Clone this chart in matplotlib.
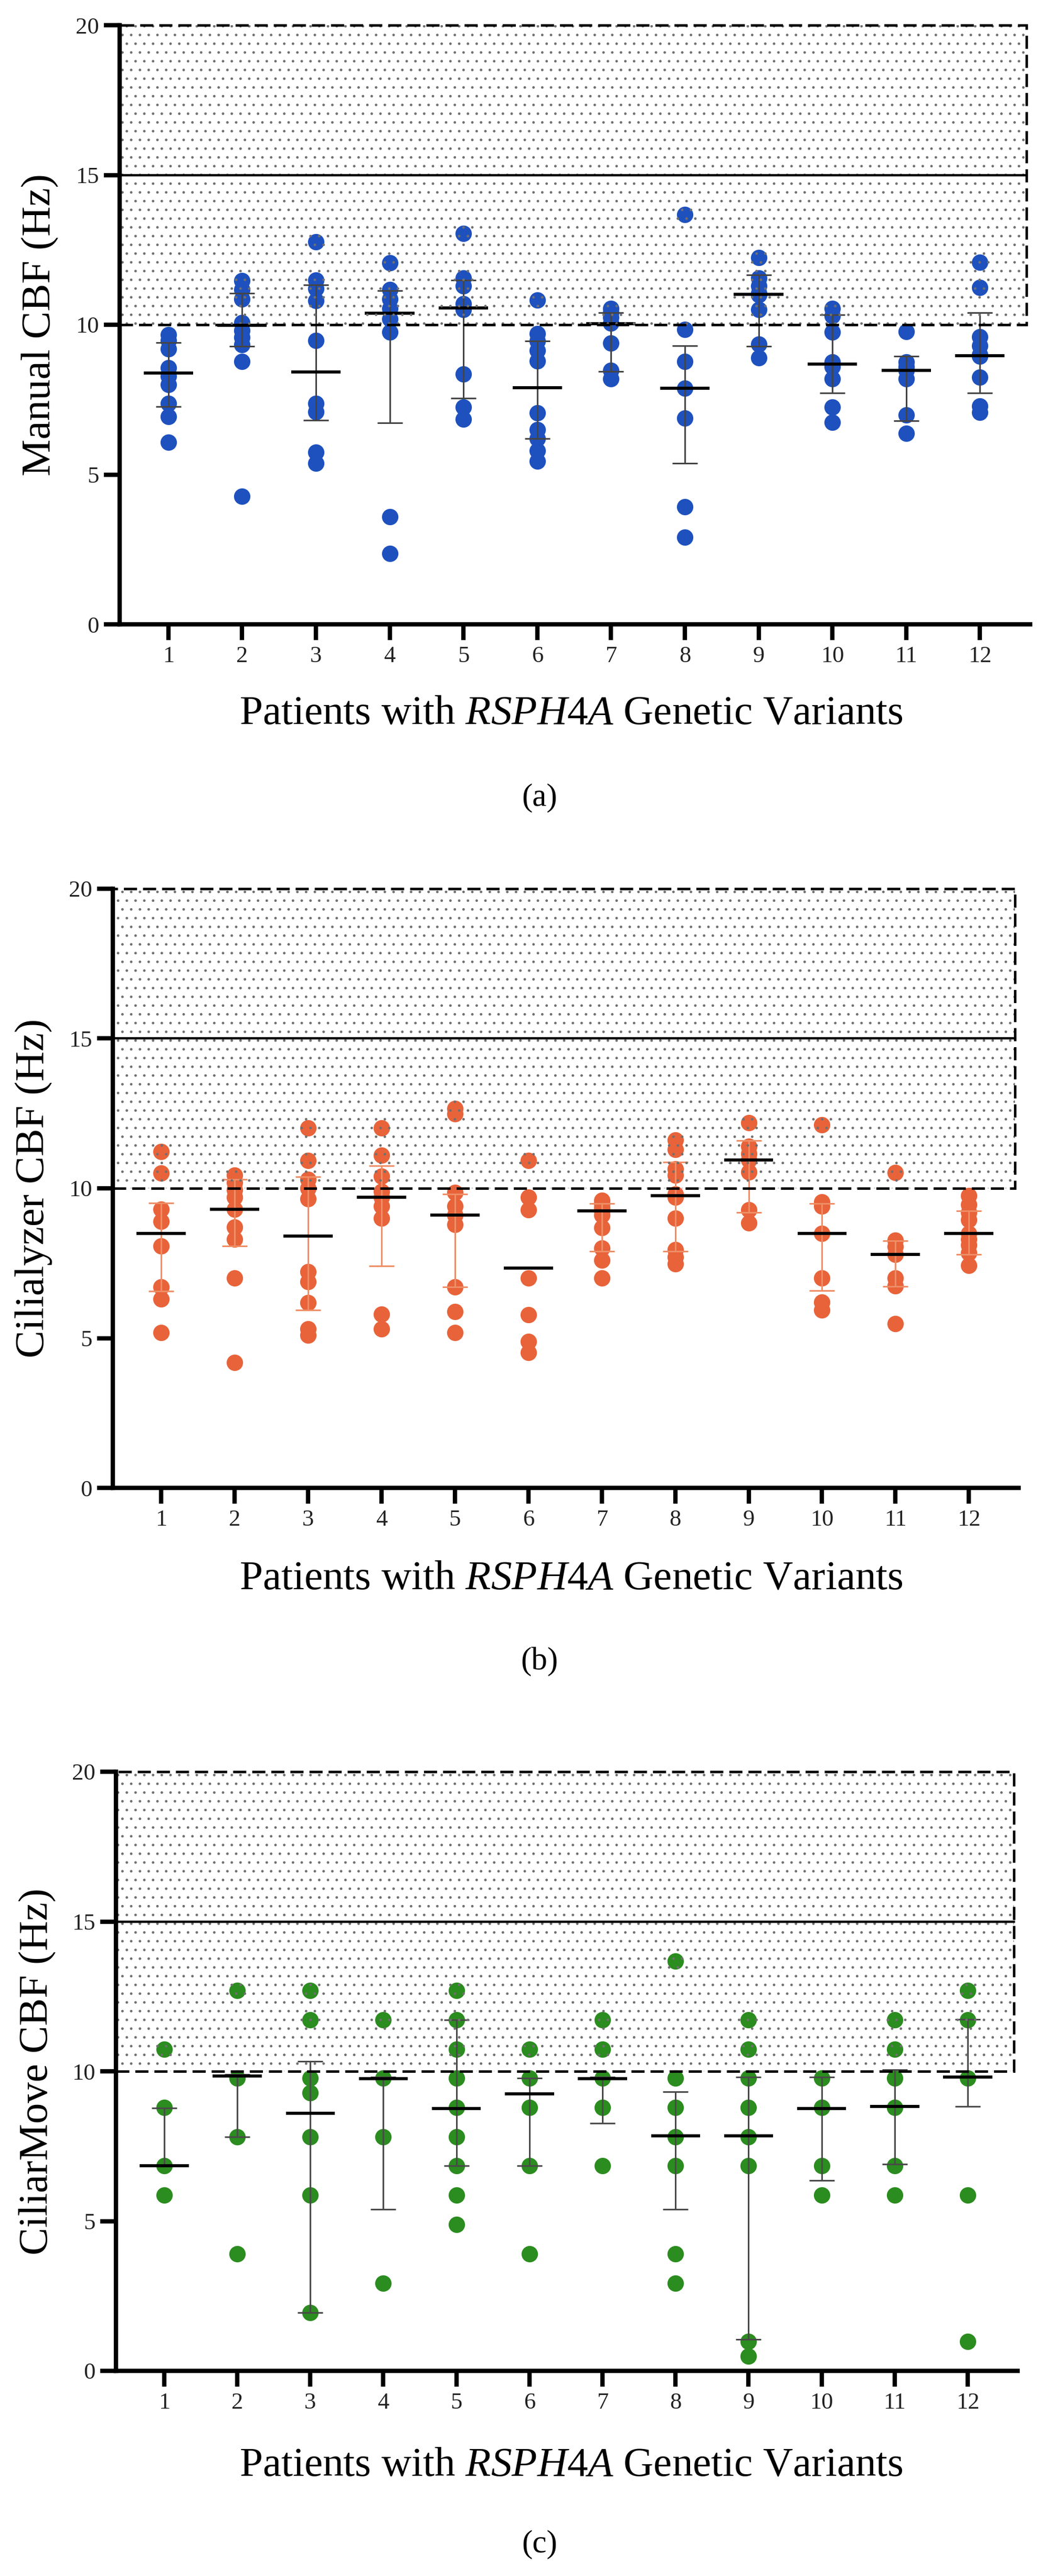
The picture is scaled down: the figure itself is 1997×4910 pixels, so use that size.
import matplotlib
matplotlib.use("Agg")
import matplotlib.pyplot as plt
from matplotlib.patches import Rectangle
import numpy as np

plt.rcParams['font.family'] = ['Liberation Serif', 'DejaVu Serif']
plt.rcParams['mathtext.fontset'] = 'custom'
plt.rcParams['mathtext.rm'] = 'Liberation Serif'
plt.rcParams['mathtext.it'] = 'Liberation Serif:italic'
plt.rcParams['hatch.linewidth'] = 1.1

# ---------------- data ----------------
patients = [1, 2, 3, 4, 5, 6, 7, 8, 9, 10, 11, 12]
tick_labels = [str(p) for p in patients]
y_ticks = [0, 5, 10, 15, 20]

# (a) Manual CBF (Hz)
manual_values = [
    [9.67, 9.48, 9.19, 8.57, 8.28, 8.0, 7.37, 6.93, 6.08],
    [11.47, 11.18, 10.86, 10.07, 9.81, 9.58, 9.33, 8.78, 4.28],
    [12.76, 11.48, 11.2, 10.81, 9.48, 7.38, 7.1, 5.74, 5.37],
    [12.07, 11.18, 10.85, 10.55, 10.2, 9.75, 3.59, 2.37],
    [13.05, 11.55, 11.3, 10.7, 10.5, 8.36, 7.25, 6.85],
    [10.82, 9.7, 9.45, 9.15, 8.8, 7.05, 6.5, 6.2, 5.8, 5.45],
    [10.55, 10.4, 10.25, 10.05, 9.38, 8.48, 8.2],
    [13.67, 9.85, 8.78, 7.88, 6.88, 3.92, 2.9],
    [12.25, 11.55, 11.3, 11.05, 11.0, 10.5, 9.35, 8.9],
    [10.55, 10.3, 9.75, 8.75, 8.6, 8.2, 7.25, 6.75],
    [9.78, 8.75, 8.6, 8.48, 8.2, 6.98, 6.38],
    [12.08, 11.25, 9.6, 9.3, 9.0, 8.95, 8.25, 7.28, 7.08],
]
manual_median = [8.39, 9.98, 8.43, 10.38, 10.56, 7.9, 10.03, 7.88, 11.01, 8.68, 8.48, 8.97]
manual_q1 = [7.26, 9.28, 6.81, 6.73, 7.55, 6.2, 8.45, 5.37, 9.28, 7.73, 6.8, 7.73]
manual_q3 = [9.4, 11.05, 11.33, 11.13, 11.48, 9.45, 10.4, 9.3, 11.67, 10.33, 8.95, 10.4]

# (b) Cilialyzer CBF (Hz)
cilialyzer_values = [
    [11.22, 10.5, 9.3, 8.9, 8.08, 6.71, 6.31, 5.19],
    [10.44, 10.2, 9.95, 9.7, 9.3, 8.7, 8.3, 7.0, 4.19],
    [12.01, 10.92, 10.3, 10.0, 9.65, 7.21, 6.89, 6.18, 5.3, 5.09],
    [12.01, 11.11, 10.41, 9.9, 9.7, 9.4, 9.01, 5.8, 5.3],
    [12.67, 12.48, 9.86, 9.4, 9.1, 8.8, 6.71, 5.88, 5.19],
    [10.92, 9.7, 9.28, 7.0, 5.78, 4.88, 4.51],
    [9.6, 9.5, 9.35, 9.24, 9.1, 8.69, 8.0, 7.6, 7.0],
    [11.61, 11.3, 10.65, 10.44, 9.8, 9.7, 9.01, 7.95, 7.7, 7.47],
    [12.19, 11.4, 11.15, 10.95, 10.55, 9.28, 8.85],
    [12.12, 9.55, 9.4, 8.5, 7.0, 6.2, 5.94],
    [10.52, 8.27, 8.05, 7.8, 7.0, 6.75, 5.49],
    [9.75, 9.45, 9.2, 8.95, 8.5, 8.3, 8.1, 7.85, 7.42],
]
cilialyzer_median = [8.5, 9.3, 8.4, 9.7, 9.1, 7.34, 9.24, 9.75, 10.95, 8.5, 7.79, 8.5]
cilialyzer_q1 = [6.57, 8.08, 5.94, 7.4, 6.71, 7.34, 7.9, 7.9, 9.19, 6.59, 6.73, 7.79]
cilialyzer_q3 = [9.51, 10.3, 10.38, 10.75, 9.8, 7.34, 9.49, 10.87, 11.6, 9.49, 8.24, 9.24]

# (c) CiliarMove CBF (Hz)
ciliarmove_values = [
    [10.74, 8.79, 6.84, 5.86],
    [12.70, 9.77, 7.81, 3.91],
    [12.70, 11.72, 9.77, 9.28, 7.81, 5.86, 1.95],
    [11.72, 9.77, 7.81, 2.93],
    [12.70, 11.72, 10.74, 9.77, 8.79, 7.81, 6.84, 5.86, 4.88],
    [10.74, 9.77, 8.79, 6.84, 3.91],
    [11.72, 10.74, 9.77, 8.79, 6.84],
    [13.67, 9.77, 8.79, 7.81, 6.84, 3.91, 2.93],
    [11.72, 10.74, 9.77, 8.79, 7.81, 6.84, 0.98, 0.49],
    [9.77, 8.79, 6.84, 5.86],
    [11.72, 10.74, 9.77, 8.79, 6.84, 5.86],
    [12.70, 11.72, 9.77, 5.86, 0.98],
]
ciliarmove_median = [6.85, 9.85, 8.6, 9.75, 8.75, 9.25, 9.75, 7.85, 7.85, 8.75, 8.82, 9.8]
ciliarmove_q1 = [6.85, 7.81, 1.95, 5.4, 6.85, 6.84, 8.27, 5.4, 1.05, 6.35, 6.9, 8.82]
ciliarmove_q3 = [8.77, 9.9, 10.33, 9.8, 11.72, 9.77, 9.8, 9.32, 9.8, 9.8, 10.05, 11.73]

normal_low, normal_mid, normal_high = 10, 15, 20

# ---------------- layout ----------------
W, H = 1997, 4910
fig = plt.figure(figsize=(W / 100, H / 100), dpi=100)

panels = [
    dict(values=manual_values, med=manual_median, q1=manual_q1, q3=manual_q3,
         color='#1E51BE', ecolor='#454545', ylabel='Manual CBF (Hz)', letter='(a)',
         left=228, unit=140.6, top=48, ylab_x=77, xlab_off=189),
    dict(values=cilialyzer_values, med=cilialyzer_median, q1=cilialyzer_q1, q3=cilialyzer_q3,
         color='#E8633A', ecolor='#EE8E66', ylabel='Cilialyzer CBF (Hz)', letter='(b)',
         left=215, unit=139.9, top=1694, ylab_x=64, xlab_off=192),
    dict(values=ciliarmove_values, med=ciliarmove_median, q1=ciliarmove_q1, q3=ciliarmove_q3,
         color='#2B8C1F', ecolor='#4a4a4a', ylabel='CiliarMove CBF (Hz)', letter='(c)',
         left=221, unit=139.2, top=3377, ylab_x=72, xlab_off=199),
]

xmin, xmax = 0.34, 12.68
rect_right = 12.63
ax_h = 1142

for p in panels:
    width = (xmax - xmin) * p['unit']
    ax = fig.add_axes([p['left'] / W, 1 - (p['top'] + ax_h) / H, width / W, ax_h / H])
    ax.set_xlim(xmin, xmax)
    ax.set_ylim(0, 20)

    # data points
    for x, vals in zip(patients, p['values']):
        ax.plot([x] * len(vals), vals, 'o', ms=22.5, color=p['color'], mec='none',
                zorder=3, clip_on=False)

    med = np.array(p['med'])
    q1 = np.array(p['q1'])
    q3 = np.array(p['q3'])
    ax.errorbar(patients, med, yerr=[med - q1, q3 - med], fmt='none',
                ecolor=p['ecolor'], elinewidth=2.2, capsize=17, capthick=2.2, zorder=4)
    xs = np.array(patients, dtype=float)
    ax.hlines(med, xs - 0.335, xs + 0.335, colors='black', lw=4.2, zorder=5)

    # normal range box
    ax.add_patch(Rectangle((xmin, normal_low), rect_right - xmin, normal_high - normal_low,
                           fill=False, hatch='.', edgecolor='#707070', lw=0, zorder=6))
    ax.add_patch(Rectangle((xmin, normal_low), rect_right - xmin, normal_high - normal_low,
                           fill=False, edgecolor='black', lw=3.4, linestyle=(0, (5.3, 2.4)),
                           zorder=6, clip_on=False))
    ax.plot([xmin, rect_right], [normal_mid, normal_mid], color='black', lw=3.2, zorder=6)

    # axes styling
    for s in ['top', 'right']:
        ax.spines[s].set_visible(False)
    for s in ['left', 'bottom']:
        ax.spines[s].set_linewidth(6)
        ax.spines[s].set_zorder(7)
    ax.set_xticks(patients, tick_labels)
    ax.set_yticks(y_ticks)
    ax.tick_params(axis='both', direction='out', length=21.6, width=6, labelsize=32,
                   labelcolor='#222222')
    ax.tick_params(axis='x', pad=8)
    ax.tick_params(axis='y', pad=7)

    # labels
    yc = p['top'] + ax_h / 2
    fig.text(p['ylab_x'] / W, 1 - yc / H, p['ylabel'], rotation=90, ha='center', va='center',
             fontsize=57)
    base = p['top'] + ax_h + p['xlab_off']
    fig.text(1088 / W, 1 - base / H, r'Patients with $\mathit{RSPH4A}$ Genetic Variants',
             ha='center', va='baseline', fontsize=57)
    fig.text(1028 / W, 1 - (p['top'] + ax_h + 331) / H, p['letter'], ha='center', va='center',
             fontsize=44)

fig.savefig('out.png', dpi=100)
